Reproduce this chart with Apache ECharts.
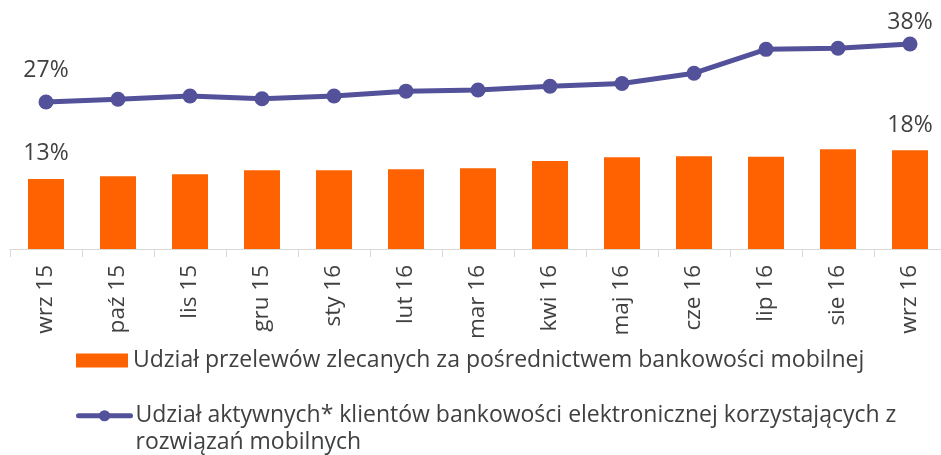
<!DOCTYPE html>
<html>
<head>
<meta charset="utf-8">
<script src="https://cdn.jsdelivr.net/npm/echarts@6/dist/echarts.min.js"></script>
<style>
html,body{margin:0;padding:0;background:#fff;}
#chart{width:941px;height:455px;}
</style>
</head>
<body>
<div id="chart"></div>
<script>
const categories = ['wrz 15','paź 15','lis 15','gru 15','sty 16','lut 16','mar 16','kwi 16','maj 16','cze 16','lip 16','sie 16','wrz 16'];
const transfersShare = [12.9, 13.4, 13.8, 14.5, 14.5, 14.7, 14.9, 16.2, 16.9, 17.1, 17.0, 18.4, 18.2];
const activeClientsShare = [27.1, 27.6, 28.2, 27.7, 28.2, 29.1, 29.3, 30.0, 30.5, 32.4, 36.8, 37.0, 37.8];
const barName = 'Udział przelewów zlecanych za pośrednictwem bankowości mobilnej';
const lineName = 'Udział aktywnych* klientów bankowości elektronicznej korzystających z rozwiązań mobilnych';

const FONT = 'Open Sans';
const TXT = '#404040';

function labelled(values, distances) {
  return values.map((v, i) => {
    if (i === 0 || i === values.length - 1) {
      return { value: v, label: { show: true, distance: i === 0 ? distances[0] : distances[1] } };
    }
    return v;
  });
}

const chart = echarts.init(document.getElementById('chart'));
chart.setOption({
  animation: false,
  textStyle: { fontFamily: FONT },
  grid: { left: 10, width: 936, top: 32, bottom: 206, containLabel: false, outerBoundsMode: 'none' },
  xAxis: {
    type: 'category',
    data: categories,
    boundaryGap: true,
    axisLine: { lineStyle: { color: '#d9d9d9', width: 1 } },
    axisTick: { show: true, length: 8, lineStyle: { color: '#d9d9d9' } },
    axisLabel: { rotate: 90, margin: 16, fontSize: 22.5, color: TXT, fontFamily: FONT, interval: 0 }
  },
  yAxis: {
    type: 'value', min: 0, max: 40, show: false, splitLine: { show: false }
  },
  legend: [
    {
      data: [barName], orient: 'vertical', left: 71, top: 342,
      itemWidth: 52, itemHeight: 14, icon: 'rect',
      textStyle: { fontSize: 23, color: TXT, fontFamily: FONT, lineHeight: 27 }
    },
    {
      data: [lineName], orient: 'vertical', left: 71, top: 371,
      itemWidth: 52, itemHeight: 14,
      lineStyle: { width: 5, cap: 'round' },
      formatter: name => '\n' + name,
      textStyle: { fontSize: 23, color: TXT, fontFamily: FONT, lineHeight: 26.5, width: 830, overflow: 'break' }
    }
  ],
  series: [
    {
      name: barName,
      type: 'bar',
      data: labelled(transfersShare, [12.5, 11.5]),
      barWidth: '50%',
      itemStyle: { color: '#FF6200' },
      label: { show: false, position: 'top', formatter: p => Math.round(p.value) + '%', fontSize: 23, color: TXT, fontFamily: FONT, lineHeight: 27 }
    },
    {
      name: lineName,
      type: 'line',
      data: labelled(activeClientsShare, [11, 0]),
      symbol: 'circle',
      symbolSize: 15,
      lineStyle: { color: '#525199', width: 5 },
      itemStyle: { color: '#525199' },
      label: { show: false, position: 'top', formatter: p => Math.round(p.value) + '%', fontSize: 23, color: TXT, fontFamily: FONT, lineHeight: 27 }
    }
  ]
});
</script>
</body>
</html>
